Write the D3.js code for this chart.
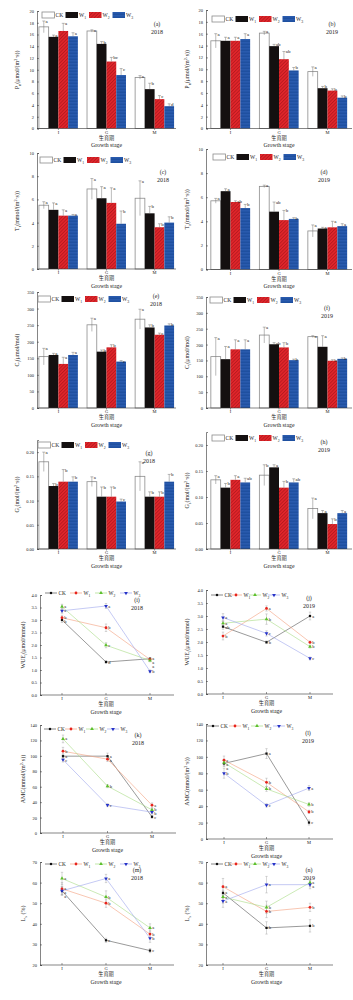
<!DOCTYPE html>
<html>
<head>
<meta charset="utf-8">
<script src="https://cdn.jsdelivr.net/npm/d3@7"></script>
<style>
body { margin: 0; background: #fff; }
text { font-family: "Liberation Serif", "DejaVu Serif", serif; fill: #222; }
.cjk { font-family: "Noto Sans CJK SC", sans-serif; }
</style>
</head>
<body>
<svg id="fig" width="353" height="1000"></svg>
<script>
const stages = ["I", "G", "M"];
const treatments = ["CK", "W1", "W2", "W3"];

// each array: one row per treatment (CK, W1, W2, W3), one column per stage (I, G, M)
// (a) Pn 2018
const pn2018 = [[17.3, 16.6, 8.7], [15.6, 14.4, 6.7], [16.6, 11.4, 5.0], [15.7, 9.1, 3.8]];
const pn2018Err = [[1.0, 0.2, 0.3], [0.3, 0.4, 1.0], [1.3, 0.7, 0.6], [0.6, 1.1, 0.4]];
const pn2018Sig = [["a", "a", "a"], ["a", "b", "b"], ["a", "bc", "c"], ["a", "c", "d"]];
// (b) Pn 2019
const pn2019 = [[14.8, 16.1, 9.6], [14.8, 13.9, 6.8], [14.8, 11.7, 6.4], [15.1, 9.8, 5.2]];
const pn2019Err = [[1.2, 0.3, 0.8], [0.6, 0.3, 0.3], [0.6, 1.3, 0.3], [0.9, 0.5, 0.3]];
const pn2019Sig = [["a", "a", "a"], ["a", "ab", "b"], ["a", "ab", "b"], ["a", "b", "b"]];
// (c) Tr 2018
const tr2018 = [[5.5, 6.9, 6.1], [5.1, 6.1, 4.8], [4.6, 5.7, 3.6], [4.6, 3.9, 4.0]];
const tr2018Err = [[0.3, 0.9, 1.5], [0.6, 1.0, 0.6], [0.5, 1.3, 0.3], [0.1, 1.1, 0.5]];
const tr2018Sig = [["a", "a", "a"], ["a", "a", "b"], ["a", "a", "b"], ["a", "b", "b"]];
// (d) Tr 2019
const tr2019 = [[5.7, 6.9, 3.2], [6.5, 4.8, 3.4], [5.6, 4.1, 3.5], [5.1, 4.2, 3.6]];
const tr2019Err = [[0.2, 0.1, 0.5], [0.2, 0.8, 0.1], [0.1, 0.8, 0.5], [0.3, 0.1, 0.2]];
const tr2019Sig = [["a", "a", "a"], ["a", "ab", "a"], ["ab", "b", "a"], ["b", "b", "a"]];
// (e) Ci 2018
const ci2018 = [[155, 251, 268], [160, 170, 243], [133, 183, 221], [160, 140, 249]];
const ci2018Err = [[25, 20, 30], [5, 5, 8], [20, 8, 5], [8, 3, 5]];
const ci2018Sig = [["a", "a", "a"], ["a", "b", "b"], ["a", "b", "c"], ["a", "c", "b"]];
// (f) Ci 2019
const ci2019 = [[162, 230, 225], [154, 201, 193], [185, 191, 149], [185, 151, 155]];
const ci2019Err = [[60, 25, 3], [40, 5, 35], [30, 15, 3], [30, 3, 3]];
const ci2019Sig = [["a", "a", "a"], ["a", "ab", "a"], ["a", "b", "b"], ["a", "b", "b"]];
// (g) Gs 2018
const gs2018 = [[0.180, 0.139, 0.150], [0.130, 0.108, 0.108], [0.139, 0.108, 0.108], [0.139, 0.098, 0.139]];
const gs2018Err = [[0.02, 0.01, 0.03], [0.005, 0.02, 0.01], [0.025, 0.02, 0.01], [0.01, 0.005, 0.015]];
const gs2018Sig = [["a", "a", "a"], ["b", "b", "b"], ["b", "b", "b"], ["b", "c", "b"]];
// (h) Gs 2019
const gs2019 = [[0.133, 0.142, 0.078], [0.118, 0.157, 0.069], [0.133, 0.118, 0.048], [0.128, 0.128, 0.069]];
const gs2019Err = [[0.008, 0.02, 0.02], [0.008, 0.005, 0.005], [0.008, 0.012, 0.01], [0.008, 0.007, 0.005]];
const gs2019Sig = [["a", "b", "a"], ["b", "a", "a"], ["a", "b", "b"], ["ab", "ab", "a"]];
// (i) WUEi 2018
const wue2018 = [[3.0, 1.32, 1.45], [3.09, 2.69, 1.42], [3.53, 1.99, 1.38], [3.37, 3.56, 0.95]];
const wue2018Err = [[0.1, 0.05, 0.05], [0.1, 0.15, 0.05], [0.1, 0.1, 0.05], [0.1, 0.1, 0.05]];
const wue2018Sig = [["b", "d", "a"], ["b", "b", "a"], ["a", "c", "a"], ["a", "a", "b"]];
// (j) WUEi 2019
const wue2019 = [[2.59, 1.99, 3.0], [2.23, 3.29, 1.99], [2.72, 2.88, 1.82], [2.94, 2.33, 1.37]];
const wue2019Err = [[0.1, 0.05, 0.15], [0.15, 0.1, 0.05], [0.1, 0.2, 0.05], [0.15, 0.1, 0.05]];
const wue2019Sig = [["ab", "b", "a"], ["b", "a", "b"], ["a", "b", "b"], ["a", "c", "c"]];
// (k) AMC 2018
const amc2018 = [[99.6, 99.6, 21], [106, 95.7, 36], [122, 60.8, 30], [95, 36.2, 27]];
const amc2018Err = [[3, 4, 2], [5, 3, 3], [5, 2, 2], [3, 2, 2]];
const amc2018Sig = [["a", "a", "c"], ["b", "a", "a"], ["a", "b", "b"], ["c", "c", "b"]];
// (l) AMC 2019
const amc2019 = [[92, 104, 20], [96, 69, 33], [93, 61, 42], [80, 41, 62]];
const amc2019Err = [[4, 6, 3], [5, 5, 2], [4, 3, 2], [6, 2, 3]];
const amc2019Sig = [["a", "a", "c"], ["a", "b", "b"], ["a", "b", "b"], ["b", "c", "a"]];
// (m) Ls 2018
const ls2018 = [[56, 32, 27], [57, 50, 35], [62, 53, 38], [56, 62, 33]];
const ls2018Err = [[2, 1, 1], [3, 2, 2], [3, 3, 2], [2, 2, 2]];
const ls2018Sig = [["a", "c", "c"], ["a", "b", "b"], ["a", "b", "a"], ["a", "a", "b"]];
// (n) Ls 2019
const ls2019 = [[55, 38, 39], [58, 46, 48], [53, 48, 60], [51, 59, 59]];
const ls2019Err = [[3, 3, 3], [4, 3, 2], [3, 3, 2], [3, 4, 2]];
const ls2019Sig = [["a", "b", "b"], ["a", "b", "b"], ["a", "b", "a"], ["a", "a", "a"]];

const svg = d3.select("#fig");
const defs = svg.append("defs");

// hatch fills for W2 and W3 bars
const hr = defs.append("pattern").attr("id", "hatchRed").attr("patternUnits", "userSpaceOnUse")
    .attr("width", 2.4).attr("height", 2.4).attr("patternTransform", "rotate(45)");
hr.append("rect").attr("width", 2.4).attr("height", 2.4).attr("fill", "#e3262b");
hr.append("line").attr("x1", 0.5).attr("y1", 0).attr("x2", 0.5).attr("y2", 2.4)
    .attr("stroke", "#9e1418").attr("stroke-width", 0.6);
const hb = defs.append("pattern").attr("id", "hatchBlue").attr("patternUnits", "userSpaceOnUse")
    .attr("width", 3).attr("height", 1.5);
hb.append("rect").attr("width", 3).attr("height", 1.5).attr("fill", "#1d4c9c");
hb.append("line").attr("x1", 0).attr("y1", 0.4).attr("x2", 3).attr("y2", 0.4)
    .attr("stroke", "#3a6cc4").attr("stroke-width", 0.45);

const barFill = {CK: "#fff", W1: "#141010", W2: "url(#hatchRed)", W3: "url(#hatchBlue)"};
const markColor = {CK: "#111", W1: "#e8231c", W2: "#5cc02c", W3: "#2632c8"};
const lineColor = {CK: "#555", W1: "#f4a07e", W2: "#a8dc84", W3: "#9ea6ec"};
const markShape = {CK: d3.symbolSquare, W1: d3.symbolCircle, W2: d3.symbolTriangle, W3: d3.symbolTriangle};

function rich(sel, parts, size) {
    let shift = 0;
    parts.forEach(([t, k]) => {
        const want = k === "sub" ? size * 0.3 : k === "sup" ? -size * 0.4 : 0;
        sel.append("tspan").attr("dy", want - shift)
            .attr("font-size", k ? size * 0.7 : size).text(t);
        shift = want;
    });
}

function yTitle(g, x, y, parts) {
    const t = g.append("text").attr("class", "ytitle")
        .attr("transform", "translate(" + x + "," + y + ") rotate(-90)")
        .attr("text-anchor", "middle");
    rich(t, parts, 6);
}

function xTitles(g, cx, base) {
    g.append("text").attr("class", "cjk").attr("x", cx).attr("y", base + 11)
        .attr("text-anchor", "middle").attr("font-size", 5.2).text("生育期");
    g.append("text").attr("class", "gs").attr("x", cx).attr("y", base + 18.5)
        .attr("text-anchor", "middle").attr("font-size", 5.8).text("Growth stage");
}

function tag(g, x, y, label, year) {
    g.append("text").attr("class", "tag").attr("x", x).attr("y", y).attr("text-anchor", "middle")
        .attr("font-size", 6).text(label);
    g.append("text").attr("class", "tag").attr("x", x).attr("y", y + 8).attr("text-anchor", "middle")
        .attr("font-size", 6).text(year);
}

function legendName(sel, t, size) {
    if (t === "CK") sel.text("CK");
    else rich(sel, [["W", ""], [t.slice(1), "sub"]], size);
}

function yAxis(g, y, left, ticks, fmt) {
    const ax = g.append("g").attr("transform", "translate(" + left + ",0)")
        .call(d3.axisLeft(y).tickValues(ticks).tickFormat(fmt).tickSize(-2).tickPadding(3));
    ax.select(".domain").attr("stroke", "#333").attr("stroke-width", 0.6);
    ax.selectAll(".tick line").attr("stroke", "#333").attr("stroke-width", 0.5);
    ax.selectAll(".tick text").attr("font-size", 4.5).attr("font-family", "Liberation Serif").attr("fill", "#333");
}

function barPanel(o) {
    const g = svg.append("g");
    const x = d3.scaleBand().domain(stages).range([o.left, o.right])
        .paddingInner(0.19).paddingOuter(o.pad);
    const xs = d3.scaleBand().domain(treatments).range([0, x.bandwidth()]);
    const y = d3.scaleLinear().domain([0, o.max]).range([o.base, o.top]);
    const rows = treatments.flatMap((t, ti) => stages.map((s, si) => ({
        t, s, v: o.vals[ti][si], e: o.errs[ti][si], sig: o.sig[ti][si]
    })));
    const cx = d => x(d.s) + xs(d.t) + xs.bandwidth() / 2;

    g.selectAll("rect.bar").data(rows).join("rect").attr("class", "bar")
        .attr("x", d => x(d.s) + xs(d.t)).attr("width", xs.bandwidth())
        .attr("y", d => y(d.v)).attr("height", d => y(0) - y(d.v))
        .attr("fill", d => barFill[d.t])
        .attr("stroke", d => d.t === "CK" ? "#8c8c8c" : "none").attr("stroke-width", 0.8);

    g.selectAll("line.err").data(rows).join("line").attr("class", "err")
        .attr("x1", cx).attr("x2", cx)
        .attr("y1", d => y(d.t === "CK" ? d.v - d.e : d.v)).attr("y2", d => y(d.v + d.e))
        .attr("stroke", "#777").attr("stroke-width", 0.5);
    g.selectAll("line.cap").data(rows).join("line").attr("class", "cap")
        .attr("x1", d => cx(d) - 1.5).attr("x2", d => cx(d) + 1.5)
        .attr("y1", d => y(d.v + d.e)).attr("y2", d => y(d.v + d.e))
        .attr("stroke", "#777").attr("stroke-width", 0.5);
    g.selectAll("text.sig").data(rows).join("text").attr("class", "sig")
        .attr("x", d => cx(d) + 1.8).attr("y", d => y(d.v + d.e) + 2)
        .attr("font-size", 5).text(d => d.sig);

    yAxis(g, y, o.left, d3.range(0, o.max + 1e-9, o.step), o.fmt);
    g.append("line").attr("x1", o.left).attr("x2", o.right).attr("y1", o.base).attr("y2", o.base)
        .attr("stroke", "#333").attr("stroke-width", 0.6);
    g.selectAll("line.xt").data(stages).join("line").attr("class", "xt")
        .attr("x1", d => x(d) + x.bandwidth() / 2).attr("x2", d => x(d) + x.bandwidth() / 2)
        .attr("y1", o.base).attr("y2", o.base + 1.5).attr("stroke", "#333").attr("stroke-width", 0.5);
    g.selectAll("text.xl").data(stages).join("text").attr("class", "xl")
        .attr("x", d => x(d) + x.bandwidth() / 2).attr("y", o.base + 5)
        .attr("text-anchor", "middle").attr("font-size", 4.5).text(d => d);
    xTitles(g, x("G") + x.bandwidth() / 2, o.base);
    yTitle(g, o.yLabX, (o.base + o.top) / 2, o.yLabel);
    tag(g, o.tagX, o.tagY, o.label, o.year);

    const lg = g.append("g").attr("transform", "translate(" + o.legX + "," + o.legY + ")");
    treatments.forEach((t, i) => {
        lg.append("rect").attr("x", i * 23.5).attr("y", -3).attr("width", 12.5).attr("height", 6)
            .attr("fill", barFill[t]).attr("stroke", t === "CK" ? "#8c8c8c" : "none").attr("stroke-width", 0.8);
        legendName(lg.append("text").attr("x", i * 23.5 + 13.5).attr("y", 2).attr("font-size", 5.5), t, 5.5);
    });
}

function linePanel(o) {
    const g = svg.append("g");
    const x = d3.scalePoint().domain(stages).range([o.xI, o.xM]);
    const y = d3.scaleLinear().domain(o.domain).range([o.base, o.top]);
    const sym = t => d3.symbol().type(markShape[t]).size(t === "CK" ? 5 : 6)();
    const rows = treatments.flatMap((t, ti) => stages.map((s, si) => ({
        t, s, v: o.vals[ti][si], e: o.errs[ti][si], sig: o.sig[ti][si]
    })));

    // letters: nudge apart when two points of one stage sit too close
    stages.forEach(s => {
        const col = rows.filter(d => d.s === s).sort((a, b) => y(a.v) - y(b.v));
        let last = -Infinity;
        col.forEach(d => {
            d.ly = Math.max(y(d.v) + 1.5, last + 4);
            last = d.ly;
        });
    });

    treatments.forEach(t => {
        g.append("path").attr("class", "trend").datum(rows.filter(d => d.t === t))
            .attr("d", d3.line().x(d => x(d.s)).y(d => y(d.v)))
            .attr("fill", "none").attr("stroke", lineColor[t]).attr("stroke-width", 0.6);
    });
    g.selectAll("line.err").data(rows).join("line").attr("class", "err")
        .attr("x1", d => x(d.s)).attr("x2", d => x(d.s))
        .attr("y1", d => y(d.v - d.e)).attr("y2", d => y(d.v + d.e))
        .attr("stroke", "#999").attr("stroke-width", 0.4);
    g.selectAll("line.cap").data(rows.flatMap(d => [d.v - d.e, d.v + d.e].map(v => ({s: d.s, v}))))
        .join("line").attr("class", "cap")
        .attr("x1", d => x(d.s) - 1.2).attr("x2", d => x(d.s) + 1.2)
        .attr("y1", d => y(d.v)).attr("y2", d => y(d.v))
        .attr("stroke", "#999").attr("stroke-width", 0.4);
    g.selectAll("path.mark").data(rows).join("path").attr("class", "mark")
        .attr("transform", d => "translate(" + x(d.s) + "," + y(d.v) + ")" + (d.t === "W3" ? " rotate(180)" : ""))
        .attr("d", d => sym(d.t)).attr("fill", d => markColor[d.t]);
    g.selectAll("text.sig").data(rows).join("text").attr("class", "sig")
        .attr("x", d => x(d.s) + 2.2).attr("y", d => d.ly)
        .attr("font-size", 4.5).text(d => d.sig);

    yAxis(g, y, o.left, d3.range(o.domain[0], o.domain[1] + 1e-9, o.step), o.fmt);
    g.append("line").attr("x1", o.left).attr("x2", o.right).attr("y1", o.base).attr("y2", o.base)
        .attr("stroke", "#333").attr("stroke-width", 0.6);
    g.selectAll("line.xt").data(stages).join("line").attr("class", "xt")
        .attr("x1", d => x(d)).attr("x2", d => x(d))
        .attr("y1", o.base).attr("y2", o.base - 2).attr("stroke", "#333").attr("stroke-width", 0.5);
    g.selectAll("text.xl").data(stages).join("text").attr("class", "xl")
        .attr("x", d => x(d)).attr("y", o.base + 5)
        .attr("text-anchor", "middle").attr("font-size", 4.5).text(d => d);
    xTitles(g, x("G"), o.base);
    yTitle(g, o.yLabX, (o.base + o.top) / 2, o.yLabel);
    tag(g, o.tagX, o.tagY, o.label, o.year);

    const lg = g.append("g").attr("transform", "translate(" + o.legX + "," + o.legY + ")");
    treatments.forEach((t, i) => {
        const x0 = i * o.legStep;
        lg.append("line").attr("x1", x0).attr("x2", x0 + 12).attr("y1", 0).attr("y2", 0)
            .attr("stroke", lineColor[t]).attr("stroke-width", 0.7);
        lg.append("path").attr("transform", "translate(" + (x0 + 6) + ",0)" + (t === "W3" ? " rotate(180)" : ""))
            .attr("d", sym(t)).attr("fill", markColor[t]);
        legendName(lg.append("text").attr("x", x0 + 13.5).attr("y", 2).attr("font-size", 5.3), t, 5.3);
    });
}

const pnLabel = [["P", ""], ["n", "sub"], ["(μmol/(m", ""], ["2", "sup"], ["·s))", ""]];
const trLabel = [["T", ""], ["r", "sub"], ["(mmol/(m", ""], ["2", "sup"], ["·s))", ""]];
const ciLabel = [["C", ""], ["i", "sub"], ["(μmol/mol)", ""]];
const gsLabel = [["G", ""], ["s", "sub"], ["(mol/(m", ""], ["2", "sup"], ["·s))", ""]];
const wueLabel = [["WUE", ""], ["i", "sub"], ["(μmol/mmol)", ""]];
const amcLabel = [["AMC(mmol/(m", ""], ["2", "sup"], ["·s))", ""]];
const lsLabel = [["L", ""], ["s", "sub"], [" (%)", ""]];

const L = {left: 37, right: 176, pad: 0.04, yLabX: 19};
const R = {left: 206, right: 352, pad: 0.1, yLabX: 189};

barPanel({...L, vals: pn2018, errs: pn2018Err, sig: pn2018Sig, max: 20, step: 2, fmt: d3.format("d"),
    base: 128.5, top: 11, yLabel: pnLabel, label: "(a)", year: "2018", tagX: 157, tagY: 26, legX: 42, legY: 15});
barPanel({...R, vals: pn2019, errs: pn2019Err, sig: pn2019Sig, max: 20, step: 2, fmt: d3.format("d"),
    base: 128.5, top: 10, yLabel: pnLabel, label: "(b)", year: "2019", tagX: 332, tagY: 26, legX: 212, legY: 19});
barPanel({...L, vals: tr2018, errs: tr2018Err, sig: tr2018Sig, max: 10, step: 2, fmt: d3.format("d"),
    base: 269, top: 153, yLabel: trLabel, label: "(c)", year: "2018", tagX: 163, tagY: 174, legX: 40, legY: 160});
barPanel({...R, vals: tr2019, errs: tr2019Err, sig: tr2019Sig, max: 10, step: 2, fmt: d3.format("d"),
    base: 269.5, top: 149, yLabel: trLabel, label: "(d)", year: "2019", tagX: 324, tagY: 174, legX: 213, legY: 157});
barPanel({...L, vals: ci2018, errs: ci2018Err, sig: ci2018Sig, max: 350, step: 50, fmt: d3.format("d"),
    base: 408, top: 292, yLabel: ciLabel, label: "(e)", year: "2018", tagX: 156, tagY: 298, legX: 38, legY: 299});
barPanel({...R, vals: ci2019, errs: ci2019Err, sig: ci2019Sig, max: 350, step: 50, fmt: d3.format("d"),
    base: 408, top: 297, yLabel: ciLabel, label: "(f)", year: "2019", tagX: 327, tagY: 310, legX: 210, legY: 300});
barPanel({...L, vals: gs2018, errs: gs2018Err, sig: gs2018Sig, max: 0.225, step: 0.05, fmt: d3.format(".2f"),
    base: 549, top: 440, yLabel: gsLabel, label: "(g)", year: "2018", tagX: 149, tagY: 455, legX: 38, legY: 445});
barPanel({...R, vals: gs2019, errs: gs2019Err, sig: gs2019Sig, max: 0.225, step: 0.05, fmt: d3.format(".2f"),
    base: 549, top: 432, yLabel: gsLabel, label: "(h)", year: "2019", tagX: 324, tagY: 444, legX: 212, legY: 438});

const LL = {left: 40, right: 174, xI: 62, xM: 150, yLabX: 25};
const RL = {left: 206, right: 333, xI: 223, xM: 310, yLabX: 189};

linePanel({...LL, vals: wue2018, errs: wue2018Err, sig: wue2018Sig, domain: [0, 4], step: 0.5, fmt: d3.format(".1f"),
    base: 695, top: 595, yLabel: wueLabel, label: "(i)", year: "2018", tagX: 137, tagY: 602, legX: 45, legY: 593, legStep: 25});
linePanel({...RL, vals: wue2019, errs: wue2019Err, sig: wue2019Sig, domain: [0, 4], step: 0.5, fmt: d3.format(".1f"),
    base: 694, top: 590, yLabel: wueLabel, label: "(j)", year: "2019", tagX: 309, tagY: 600, legX: 211, legY: 595, legStep: 19});
linePanel({...LL, right: 176, xI: 63, xM: 152, vals: amc2018, errs: amc2018Err, sig: amc2018Sig, domain: [0, 140], step: 20, fmt: d3.format("d"),
    base: 833, top: 725, yLabel: amcLabel, label: "(k)", year: "2018", tagX: 138, tagY: 737, legX: 44, legY: 729, legStep: 21});
linePanel({...RL, xI: 224, xM: 309, vals: amc2019, errs: amc2019Err, sig: amc2019Sig, domain: [0, 140], step: 20, fmt: d3.format("d"),
    base: 839, top: 724, yLabel: amcLabel, label: "(l)", year: "2019", tagX: 308, tagY: 735, legX: 207, legY: 726, legStep: 22});
linePanel({...LL, vals: ls2018, errs: ls2018Err, sig: ls2018Sig, domain: [20, 70], step: 10, fmt: d3.format("d"),
    base: 965, top: 862, yLabel: lsLabel, label: "(m)", year: "2018", tagX: 137, tagY: 872, legX: 45, legY: 864, legStep: 25});
linePanel({...RL, vals: ls2019, errs: ls2019Err, sig: ls2019Sig, domain: [20, 70], step: 10, fmt: d3.format("d"),
    base: 965, top: 862, yLabel: lsLabel, label: "(n)", year: "2019", tagX: 309, tagY: 872, legX: 211, legY: 864, legStep: 19});
</script>
</body>
</html>
